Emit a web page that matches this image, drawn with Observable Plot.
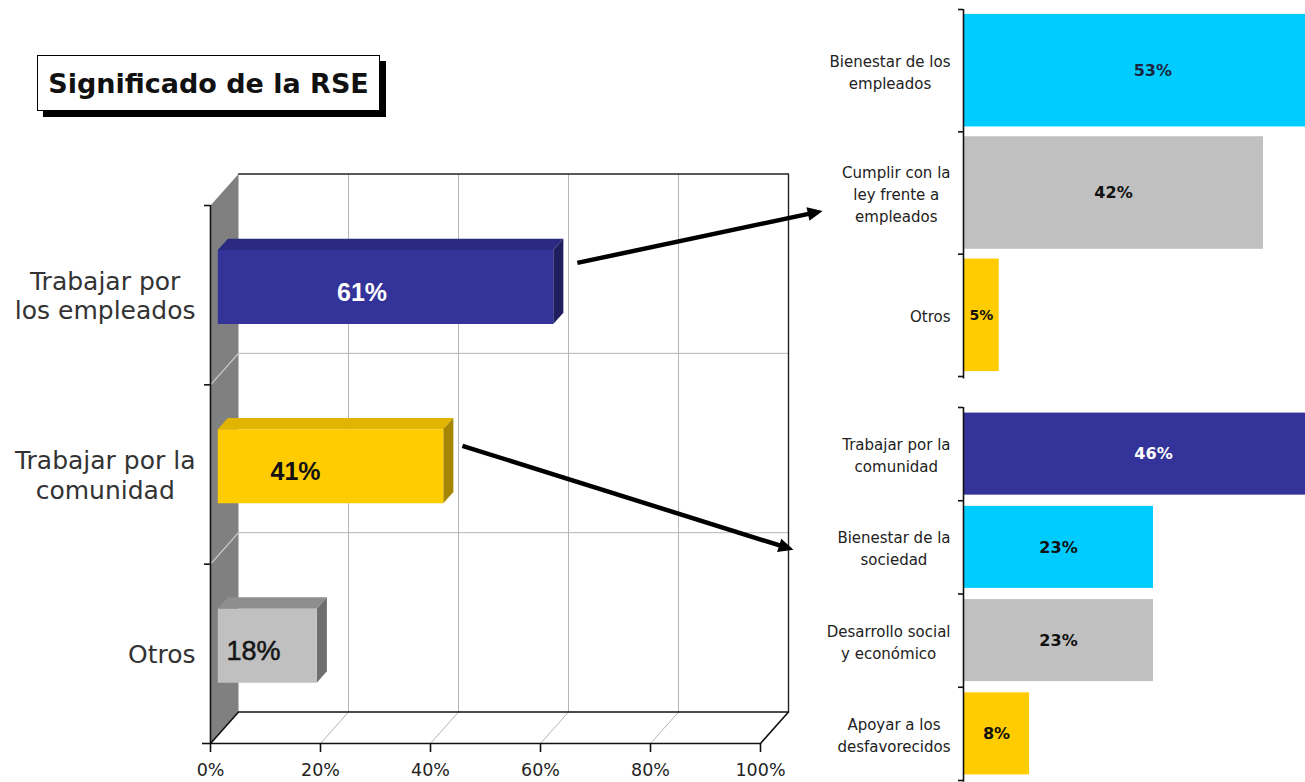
<!DOCTYPE html>
<html><head><meta charset="utf-8">
<script src="https://cdn.jsdelivr.net/npm/d3@7"></script>
<script src="https://cdn.jsdelivr.net/npm/@observablehq/plot@0.6"></script>
<style>
html,body{margin:0;padding:0;background:#fff;}
#page{position:relative;width:1305px;height:782px;overflow:hidden;background:#fff;font-family:"DejaVu Sans",sans-serif;}
#title{position:absolute;left:37px;top:55px;width:343px;height:56px;box-sizing:border-box;border:1.5px solid #000;background:#fff;box-shadow:6px 6px 0 #000;font:bold 27px "DejaVu Sans";display:flex;align-items:center;justify-content:center;color:#111;}
.chart{position:absolute;}
</style></head><body>
<div id="page">
 <div class="chart" id="emp" style="left:800px;top:0;width:505px;height:390px;overflow:hidden"></div>
 <div class="chart" id="com" style="left:800px;top:390px;width:505px;height:392px;overflow:hidden"></div>
 <div class="chart" id="main" style="left:0;top:0;width:840px;height:782px"></div>
 <div id="title">Significado de la RSE</div>
</div>
<script>
// ---------- DATA ----------
const mainCategories = ["Trabajar por los empleados", "Trabajar por la comunidad", "Otros"];
const mainLabelLines = [["Trabajar por", "los empleados"], ["Trabajar por la", "comunidad"], ["Otros"]];
const mainValues = [61, 41, 18];
const xTicks = [0, 20, 40, 60, 80, 100];

const empCategories = ["Bienestar de los empleados", "Cumplir con la ley frente a empleados", "Otros"];
const empLabelLines = [["Bienestar de los", "empleados"], ["Cumplir con la", "ley frente a", "empleados"], ["Otros"]];
const empValues = [53, 42, 5];

const comCategories = ["Trabajar por la comunidad", "Bienestar de la sociedad", "Desarrollo social y económico", "Apoyar a los desfavorecidos"];
const comLabelLines = [["Trabajar por la", "comunidad"], ["Bienestar de la", "sociedad"], ["Desarrollo social", "y económico"], ["Apoyar a los", "desfavorecidos"]];
const comValues = [46, 23, 23, 8];

// ---------- STYLES ----------
const NAVY = "#333399", CYAN = "#00CCFF", GRAY = "#C0C0C0", YELLOW = "#FFCC00";
const mainFaces = [
  {front: NAVY, top: "#2a2a82", side: "#1f1f60", label: "#ffffff", weight: "bold", size: 25},
  {front: YELLOW, top: "#e0b400", side: "#a68500", label: "#111111", weight: "bold", size: 25},
  {front: GRAY, top: "#8e8e8e", side: "#6e6e6e", label: "#151515", weight: "normal", size: 27}
];
const mainLabelFrac = [0.43, 0.345, 0.36];
const empColors = [CYAN, GRAY, YELLOW];
const empLabelColors = ["#1a2540", "#111", "#111"];
const comColors = [NAVY, CYAN, GRAY, YELLOW];
const comLabelColors = ["#ffffff", "#111", "#111", "#111"];

const canvas = document.createElement("canvas");
const ctx = canvas.getContext("2d");
function textW(s, font) { ctx.font = font; return ctx.measureText(s).width; }

// ---------- SUB CHARTS ----------
function subChart(el, cats, lines, values, colors, labelColors, domainMax, xRange, height, yRange, pad) {
  const n = cats.length;
  const rows = cats.map((c, i) => ({cat: c, lines: lines[i], value: values[i], i}));
  const pxPer = (xRange[1] - xRange[0]) / domainMax;
  const marks = [
    Plot.rect(rows, {x1: () => 0, x2: d => d.value, y1: d => d.i + pad, y2: d => d.i + 1 - pad, fill: d => d.cat}),
    Plot.ruleX([0], {x: d => d, y1: () => 0, y2: () => n + 0.02, stroke: "#111", strokeWidth: 1.6}),
    Plot.ruleY(d3.range(n + 1), {y: d => d, x1: () => -5 / pxPer, x2: () => 0, stroke: "#111", strokeWidth: 1.6})
  ];
  rows.forEach(d => {
    marks.push(Plot.text([d], {x: r => r.value / 2, y: r => r.i + 0.5, text: r => r.value + "%",
      fontWeight: "bold", fontSize: d.value < 6 ? 14 : 16, fill: labelColors[d.i]}));
    const w = d3.max(d.lines, s => textW(s, "15px 'DejaVu Sans'"));
    marks.push(Plot.text([d], {x: () => 0, y: r => r.i + 0.5, text: r => r.lines.join("\n"),
      dx: -(13 + w / 2), textAnchor: "middle", lineAnchor: "middle", fontSize: 15, lineHeight: 1.47, fill: "#222"}));
  });
  const p = Plot.plot({
    width: 505, height, margin: 0,
    x: {domain: [0, domainMax], range: xRange, axis: null},
    y: {domain: [0, n], range: yRange, axis: null},
    color: {domain: cats, range: colors},
    style: {background: "transparent", overflow: "visible", fontFamily: "DejaVu Sans"},
    marks
  });
  document.getElementById(el).appendChild(p);
  return p;
}
subChart("emp", empCategories, empLabelLines, empValues, empColors, empLabelColors, 42, [163, 463], 390, [9, 376], 0.04);
subChart("com", comCategories, comLabelLines, comValues, comColors, comLabelColors, 23, [163, 353], 392, [17, 390], 0.06);

// ---------- MAIN 3D CHART ----------
const PX = 5.5;                 // px per % on main x scale
const ROWPX = 538 / 3;          // px per row
const NR = mainCategories.length;
const X_DOMAIN = [0, 100], X_RANGE = [210, 210 + 100 * PX];
const Y_DOMAIN = [0, NR], Y_RANGE = [205, 205 + NR * ROWPX];
const xS = d3.scaleLinear(X_DOMAIN, X_RANGE), yS = d3.scaleLinear(Y_DOMAIN, Y_RANGE);
const DX = 28 / PX, DY = 31.5 / ROWPX;   // depth offsets in data units
const P = (v, r, f) => ({x: v + f * DX, y: r - f * DY});
const poly = (pts, o) => Plot.line([...pts, pts[0]], {x: "x", y: "y", curve: "linear", stroke: "none", ...o});
const seg = (a, b, o) => Plot.line([a, b], {x: "x", y: "y", curve: "linear", ...o});

const marks = [];
// back wall
marks.push(poly([P(0, 0, 1), P(100, 0, 1), P(100, NR, 1), P(0, NR, 1)], {fill: "#ffffff"}));
xTicks.slice(1, -1).forEach(v => marks.push(seg(P(v, 0, 1), P(v, NR, 1), {stroke: "#b5b5b5", strokeWidth: 1})));
d3.range(1, NR).forEach(r => marks.push(seg(P(0, r, 1), P(100, r, 1), {stroke: "#b5b5b5", strokeWidth: 1})));
marks.push(Plot.line([P(0, 0, 1), P(100, 0, 1), P(100, NR, 1)], {x: "x", y: "y", stroke: "#222", strokeWidth: 1.4}));
// side wall
marks.push(poly([P(0, 0, 0), P(0, 0, 1), P(0, NR, 1), P(0, NR, 0)], {fill: "#808080"}));
d3.range(1, NR).forEach(r => marks.push(seg(P(0, r, 0), P(0, r, 1), {stroke: "#cfcfcf", strokeWidth: 1.2})));
// floor
marks.push(poly([P(0, NR, 0), P(100, NR, 0), P(100, NR, 1), P(0, NR, 1)], {fill: "#ffffff"}));
xTicks.slice(1, -1).forEach(v => marks.push(seg(P(v, NR, 0), P(v, NR, 1), {stroke: "#b5b5b5", strokeWidth: 1})));
marks.push(poly([P(0, NR, 0), P(100, NR, 0), P(100, NR, 1), P(0, NR, 1)], {stroke: "#111", strokeWidth: 1.6, fill: "none"}));
// y axis line and ticks
marks.push(Plot.ruleX([0], {x: d => d, y1: () => 0, y2: () => NR, stroke: "#111", strokeWidth: 1.6}));
marks.push(Plot.ruleY(d3.range(NR + 1), {y: d => d, x1: d => d === NR ? -8 / PX : -6 / PX, x2: () => 0, stroke: "#111", strokeWidth: 1.6}));
// x axis ticks & labels
marks.push(Plot.ruleX(xTicks, {x: d => d, y1: () => NR, y2: () => NR + 9 / ROWPX, stroke: "#111", strokeWidth: 1.6}));
marks.push(Plot.text(xTicks, {x: d => d, y: () => NR, dy: 27, text: d => d + "%", fontSize: 17.5, fill: "#222"}));

// bars (3D)
const F0 = 0.26, F1 = 0.62, H = 37 / ROWPX;
mainValues.forEach((v, i) => {
  const c = mainFaces[i];
  const t = i + 0.5 - H, b = i + 0.5 + H;
  marks.push(poly([P(0, t, F0), P(v, t, F0), P(v, t, F1), P(0, t, F1)], {fill: c.top}));
  marks.push(poly([P(v, t, F0), P(v, t, F1), P(v, b, F1), P(v, b, F0)], {fill: c.side}));
  marks.push(poly([P(0, t, F0), P(v, t, F0), P(v, b, F0), P(0, b, F0)], {fill: c.front}));
  marks.push(Plot.text([v], {x: d => d * mainLabelFrac[i] + F0 * DX, y: () => i + 0.5 - F0 * DY, dy: 6,
    text: d => d + "%", fontSize: c.size, fontWeight: c.weight, fill: c.label, fontFamily: "Liberation Sans, Arial, sans-serif",
    stroke: i === 2 ? c.label : "none", strokeWidth: 0.5}));
});

// category labels (lines centred in block, block right-aligned near axis)
mainLabelLines.forEach((lines, i) => {
  const w = d3.max(lines, s => textW(s, "25px 'DejaVu Sans'"));
  marks.push(Plot.text([lines], {x: () => 0, y: () => i + 0.5, text: d => d.join("\n"), dx: -(15 + w / 2),
    textAnchor: "middle", lineAnchor: "middle", fontSize: 25, lineHeight: 1.18, fill: "#333"}));
});

// connector arrows (annotation) from the bars to the breakdown charts
const connectors = [
  {x1: mainValues[0] + 5.7, y1: 0 + 0.5 - 0.18, x2: 111.3, y2: 0.03},
  {x1: mainValues[1] + 4.8, y1: 1 + 0.5 - 0.16, x2: 106.0, y2: 1.92}
];
const HEAD_L = 15, HEAD_W = 7;
connectors.forEach(c => {
  const ax = xS(c.x1), ay = yS(c.y1), bx = xS(c.x2), by = yS(c.y2);
  const len = Math.hypot(bx - ax, by - ay), ux = (bx - ax) / len, uy = (by - ay) / len;
  const nx = -uy, ny = ux;
  const baseX = bx - HEAD_L * ux, baseY = by - HEAD_L * uy;
  const toData = (px, py) => ({x: xS.invert(px), y: yS.invert(py)});
  const shaftEnd = toData(bx - (HEAD_L - 3) * ux, by - (HEAD_L - 3) * uy);
  marks.push(Plot.link([c], {x1: "x1", y1: "y1", x2: () => shaftEnd.x, y2: () => shaftEnd.y, stroke: "#000", strokeWidth: 4.5}));
  marks.push(poly([toData(bx, by), toData(baseX + HEAD_W * nx, baseY + HEAD_W * ny), toData(baseX - HEAD_W * nx, baseY - HEAD_W * ny)],
    {fill: "#000"}));
});

const mainPlot = Plot.plot({
  width: 840, height: 782, margin: 0,
  x: {domain: X_DOMAIN, range: X_RANGE, axis: null},
  y: {domain: Y_DOMAIN, range: Y_RANGE, axis: null},
  style: {background: "transparent", overflow: "visible", fontFamily: "DejaVu Sans"},
  marks
});
document.getElementById("main").appendChild(mainPlot);
</script>
</body></html>
